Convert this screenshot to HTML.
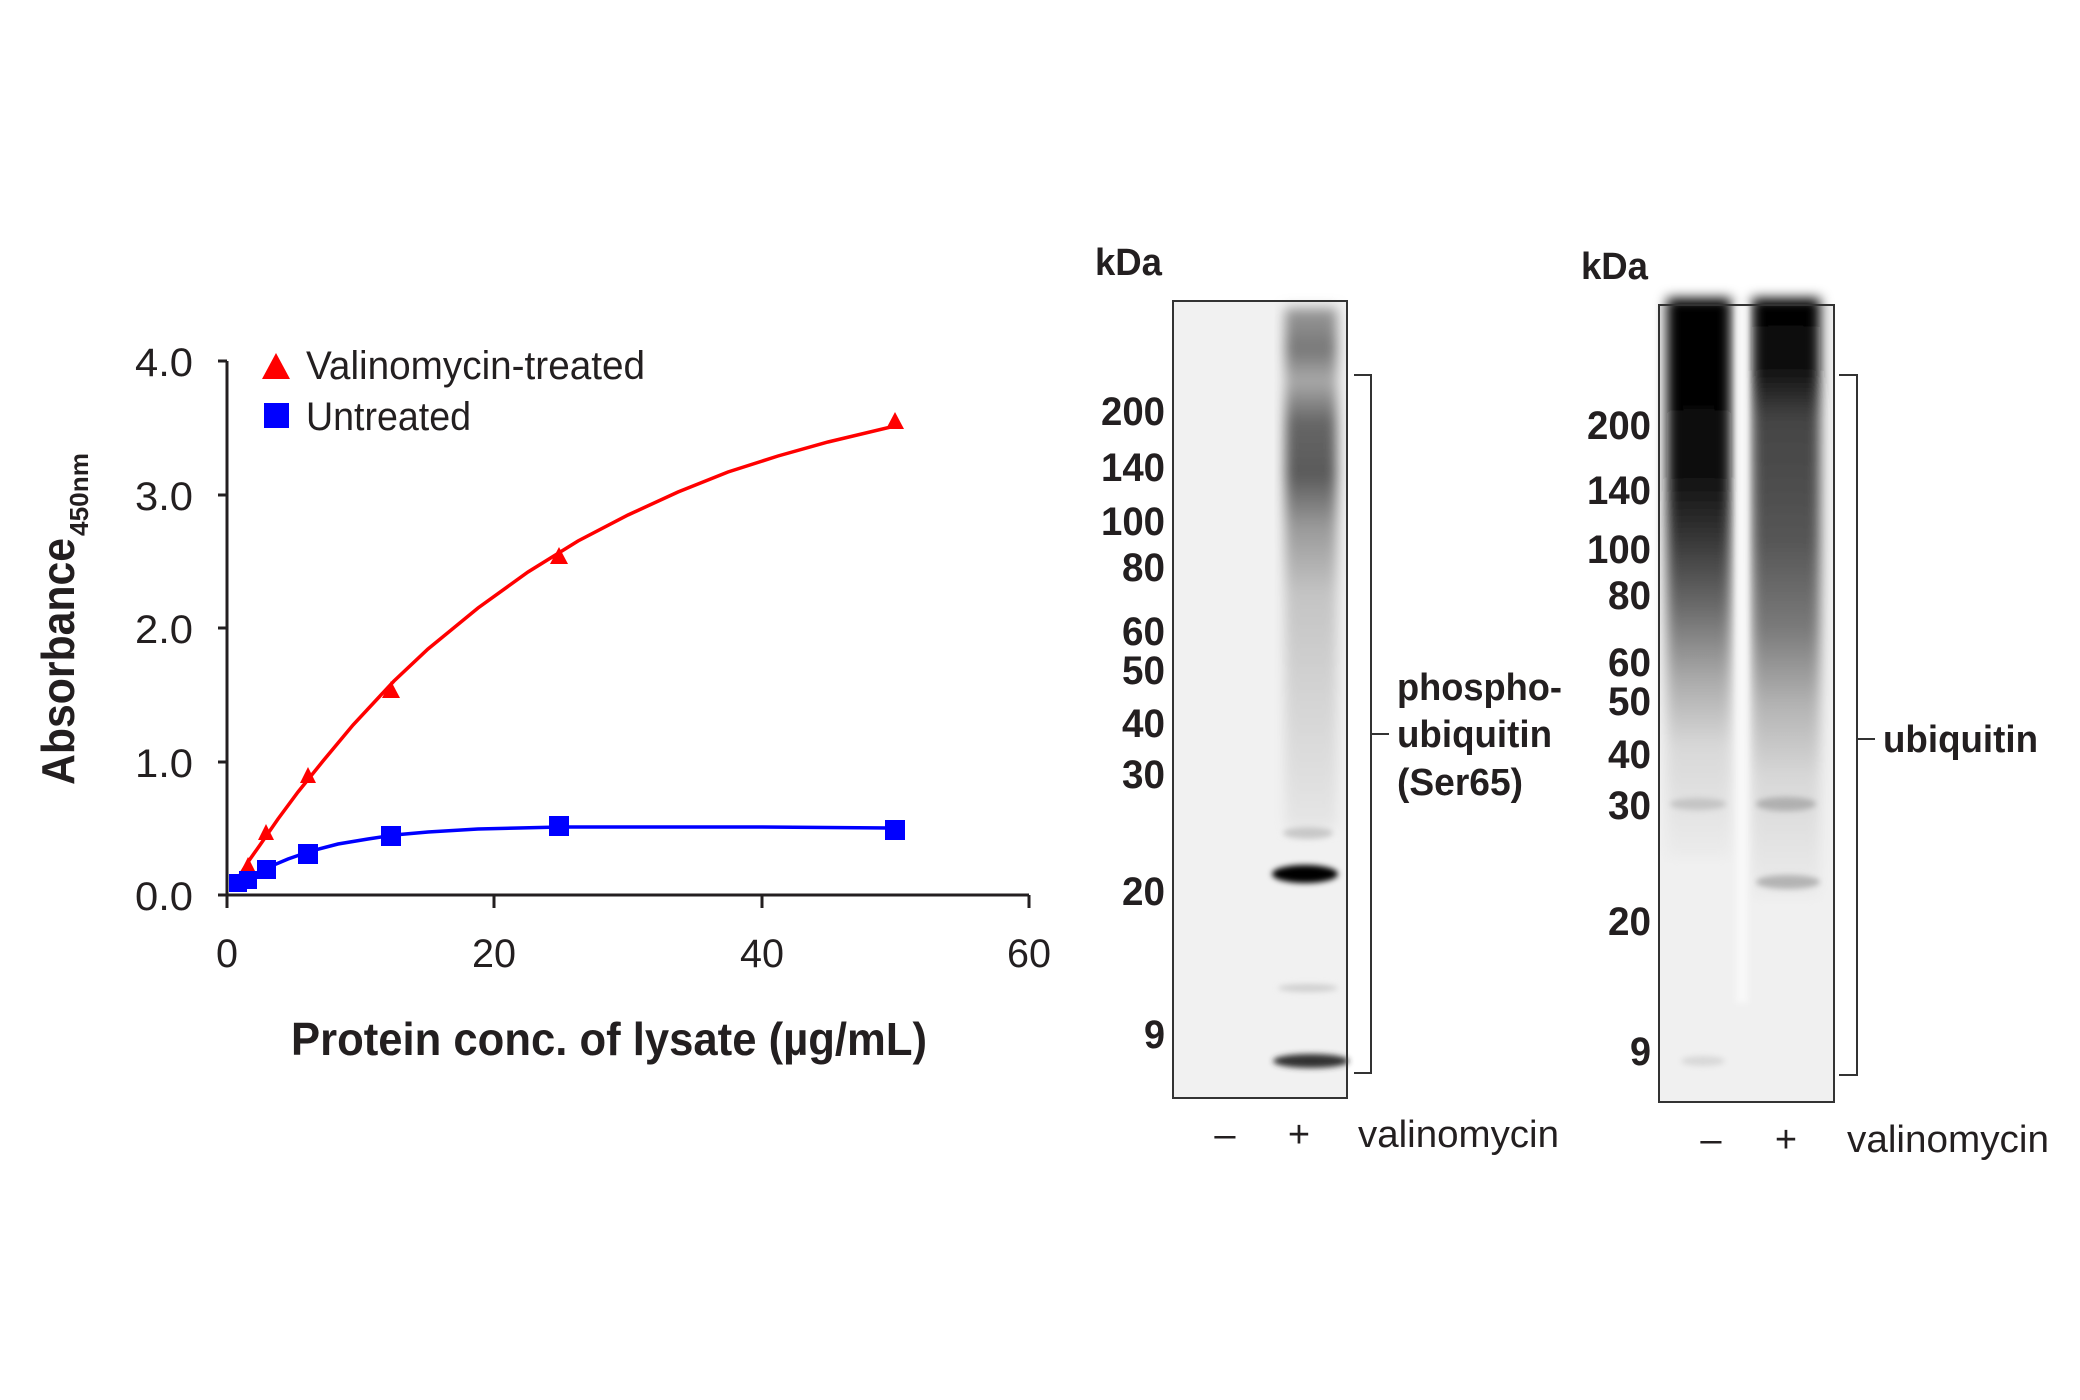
<!DOCTYPE html>
<html><head><meta charset="utf-8"><style>html,body{margin:0;padding:0;background:#fff}svg{display:block}</style></head>
<body>
<svg width="2080" height="1400" viewBox="0 0 2080 1400" xmlns="http://www.w3.org/2000/svg" font-family="Liberation Sans, sans-serif" fill="#231f20">
<defs>
<filter id="b6" x="-20%" y="-5%" width="140%" height="110%"><feGaussianBlur stdDeviation="6"/></filter>
<filter id="b3" x="-20%" y="-50%" width="140%" height="200%"><feGaussianBlur stdDeviation="3"/></filter>
<linearGradient id="g1" x1="0" y1="0" x2="0" y2="1">
<stop offset="0" stop-color="#9a9a9a"/><stop offset="0.08" stop-color="#777"/><stop offset="0.14" stop-color="#aaa"/>
<stop offset="0.22" stop-color="#666"/><stop offset="0.32" stop-color="#5a5a5a"/><stop offset="0.42" stop-color="#999"/>
<stop offset="0.55" stop-color="#c4c4c4"/><stop offset="0.75" stop-color="#d4d4d4"/><stop offset="1" stop-color="#e6e6e6"/></linearGradient>
<linearGradient id="g2" x1="0" y1="0" x2="0" y2="1">
<stop offset="0" stop-color="#000"/><stop offset="0.3" stop-color="#0a0a0a"/><stop offset="0.42" stop-color="#333"/>
<stop offset="0.55" stop-color="#6a6a6a"/><stop offset="0.68" stop-color="#aaa"/><stop offset="0.8" stop-color="#d8d8d8"/><stop offset="1" stop-color="#ececec"/></linearGradient>
<linearGradient id="g3" x1="0" y1="0" x2="0" y2="1">
<stop offset="0" stop-color="#000"/><stop offset="0.12" stop-color="#111"/><stop offset="0.2" stop-color="#444"/>
<stop offset="0.4" stop-color="#555"/><stop offset="0.55" stop-color="#7a7a7a"/><stop offset="0.68" stop-color="#b4b4b4"/><stop offset="0.8" stop-color="#d8d8d8"/><stop offset="1" stop-color="#ececec"/></linearGradient>
</defs>
<g transform="translate(-2,-2)">
<g stroke="#231f20" stroke-width="3" fill="none">
<line x1="229" y1="363" x2="229" y2="910"/>
<line x1="229" y1="897" x2="1031" y2="897"/>
<line x1="220" y1="363" x2="229" y2="363"/><line x1="220" y1="497" x2="229" y2="497"/>
<line x1="220" y1="630" x2="229" y2="630"/><line x1="220" y1="764" x2="229" y2="764"/>
<line x1="220" y1="897" x2="229" y2="897"/>
<line x1="496" y1="897" x2="496" y2="910"/><line x1="764" y1="897" x2="764" y2="910"/><line x1="1031" y1="897" x2="1031" y2="910"/>
</g>
<g font-size="40" text-anchor="end">
<text x="195" y="378" textLength="58" lengthAdjust="spacingAndGlyphs">4.0</text>
<text x="195" y="512" textLength="58" lengthAdjust="spacingAndGlyphs">3.0</text>
<text x="195" y="645" textLength="58" lengthAdjust="spacingAndGlyphs">2.0</text>
<text x="195" y="779" textLength="58" lengthAdjust="spacingAndGlyphs">1.0</text>
<text x="195" y="912" textLength="58" lengthAdjust="spacingAndGlyphs">0.0</text>
</g>
<g font-size="40" text-anchor="middle">
<text x="229" y="969" textLength="22" lengthAdjust="spacingAndGlyphs">0</text>
<text x="496" y="969" textLength="44" lengthAdjust="spacingAndGlyphs">20</text>
<text x="764" y="969" textLength="44" lengthAdjust="spacingAndGlyphs">40</text>
<text x="1031" y="969" textLength="44" lengthAdjust="spacingAndGlyphs">60</text>
</g>
<text x="293" y="1057" font-size="46" font-weight="bold" textLength="636" lengthAdjust="spacingAndGlyphs">Protein conc. of lysate (µg/mL)</text>
<g transform="translate(76,787) rotate(-90)">
<text x="0" y="0" font-size="46" font-weight="bold" textLength="247" lengthAdjust="spacingAndGlyphs">Absorbance</text>
<text x="249" y="14" font-size="26" font-weight="bold" textLength="83" lengthAdjust="spacingAndGlyphs">450nm</text>
</g>
<polygon points="264,381 292,381 278,355" fill="#ff0000"/>
<text x="308" y="381" font-size="40" textLength="339" lengthAdjust="spacingAndGlyphs">Valinomycin-treated</text>
<rect x="266" y="405" width="25" height="25" fill="#0000ff"/>
<text x="308" y="432" font-size="40" textLength="165" lengthAdjust="spacingAndGlyphs">Untreated</text>

<polyline fill="none" stroke="#ff0000" stroke-width="3.5" points="239,882 250,864 262,847 280,821 300,794 325,763 355,727 396,683 430,651 480,610 530,574 580,543 630,517 680,494 730,474 780,458 830,444 897,428"/>
<polyline fill="none" stroke="#0000ff" stroke-width="3.5" points="239,884 250,881 260,876 271,869 290,861 313,853 340,846 370,841 396,837 430,834 480,831 563,829 650,829 760,829 897,830"/>
<g fill="#ff0000">
<polygon points="233,893 247,893 240,879"/>
<polygon points="243,873 257,873 250,859"/>
<polygon points="260,842 276,842 268,826"/>
<polygon points="302,785 318,785 310,769"/>
<polygon points="384,700 402,700 393,683"/>
<polygon points="552,566 570,566 561,549"/>
<polygon points="888,431 906,431 897,414"/>
</g>
<g fill="#0000ff">
<rect x="231" y="876" width="18" height="18"/>
<rect x="241" y="873" width="18" height="18"/>
<rect x="259" y="862" width="19" height="19"/>
<rect x="300" y="846" width="20" height="20"/>
<rect x="383" y="828" width="20" height="20"/>
<rect x="551" y="818" width="20" height="20"/>
<rect x="887" y="822" width="20" height="20"/>
</g>

<rect x="1175" y="303" width="174" height="797" fill="#f1f1f1"/>
<g filter="url(#b6)">
<rect x="1287" y="310" width="52" height="520" fill="url(#g1)"/>
</g>
<g filter="url(#b3)">
<ellipse cx="1307" cy="876" rx="33" ry="9" fill="#000"/>
<ellipse cx="1310" cy="990" rx="30" ry="4" fill="#d0d0d0"/>
<ellipse cx="1313" cy="1063" rx="38" ry="7" fill="#333"/>
<ellipse cx="1310" cy="835" rx="25" ry="6" fill="#c8c8c8"/>
</g>
<rect x="1175" y="303" width="174" height="797" fill="none" stroke="#333" stroke-width="2"/>
<path d="M1356,377 H1373 V1075 H1356 M1373,736 H1391" fill="none" stroke="#333" stroke-width="2"/>
<g font-size="38" font-weight="bold">
<text x="1399" y="702" textLength="165" lengthAdjust="spacingAndGlyphs">phospho-</text>
<text x="1399" y="749" textLength="155" lengthAdjust="spacingAndGlyphs">ubiquitin</text>
<text x="1399" y="797" textLength="126" lengthAdjust="spacingAndGlyphs">(Ser65)</text>
<text x="1097" y="277" textLength="67" lengthAdjust="spacingAndGlyphs">kDa</text>
</g>
<g font-size="40" font-weight="bold" text-anchor="end">
<text x="1167" y="427" textLength="64" lengthAdjust="spacingAndGlyphs">200</text>
<text x="1167" y="483" textLength="64" lengthAdjust="spacingAndGlyphs">140</text>
<text x="1167" y="537" textLength="64" lengthAdjust="spacingAndGlyphs">100</text>
<text x="1167" y="583" textLength="43" lengthAdjust="spacingAndGlyphs">80</text>
<text x="1167" y="647" textLength="43" lengthAdjust="spacingAndGlyphs">60</text>
<text x="1167" y="686" textLength="43" lengthAdjust="spacingAndGlyphs">50</text>
<text x="1167" y="739" textLength="43" lengthAdjust="spacingAndGlyphs">40</text>
<text x="1167" y="790" textLength="43" lengthAdjust="spacingAndGlyphs">30</text>
<text x="1167" y="907" textLength="43" lengthAdjust="spacingAndGlyphs">20</text>
<text x="1167" y="1050" textLength="21" lengthAdjust="spacingAndGlyphs">9</text>
</g>
<g font-size="38">
<text x="1227" y="1149" text-anchor="middle">–</text>
<text x="1301" y="1149" text-anchor="middle">+</text>
<text x="1360" y="1149" textLength="201" lengthAdjust="spacingAndGlyphs">valinomycin</text>
</g>

<rect x="1661" y="307" width="175" height="797" fill="#f0f0f0"/>
<g filter="url(#b6)">
<rect x="1669" y="300" width="64" height="560" fill="url(#g2)"/>
<rect x="1754" y="300" width="68" height="600" fill="url(#g3)"/>
</g>
<g filter="url(#b3)">
<rect x="1738" y="305" width="12" height="700" fill="#f8f8f8"/>
<ellipse cx="1700" cy="806" rx="28" ry="6" fill="#c4c4c4"/>
<ellipse cx="1788" cy="806" rx="30" ry="7" fill="#b0b0b0"/>
<ellipse cx="1790" cy="884" rx="32" ry="7" fill="#b4b4b4"/>
<ellipse cx="1705" cy="1063" rx="22" ry="5" fill="#d8d8d8"/>
</g>
<rect x="1661" y="307" width="175" height="797" fill="none" stroke="#333" stroke-width="2"/>
<path d="M1841,377 H1859 V1077 H1841 M1859,741 H1877" fill="none" stroke="#333" stroke-width="2"/>
<g font-size="38" font-weight="bold">
<text x="1885" y="754" textLength="155" lengthAdjust="spacingAndGlyphs">ubiquitin</text>
<text x="1583" y="281" textLength="67" lengthAdjust="spacingAndGlyphs">kDa</text>
</g>
<g font-size="40" font-weight="bold" text-anchor="end">
<text x="1653" y="441" textLength="64" lengthAdjust="spacingAndGlyphs">200</text>
<text x="1653" y="506" textLength="64" lengthAdjust="spacingAndGlyphs">140</text>
<text x="1653" y="565" textLength="64" lengthAdjust="spacingAndGlyphs">100</text>
<text x="1653" y="611" textLength="43" lengthAdjust="spacingAndGlyphs">80</text>
<text x="1653" y="678" textLength="43" lengthAdjust="spacingAndGlyphs">60</text>
<text x="1653" y="717" textLength="43" lengthAdjust="spacingAndGlyphs">50</text>
<text x="1653" y="770" textLength="43" lengthAdjust="spacingAndGlyphs">40</text>
<text x="1653" y="821" textLength="43" lengthAdjust="spacingAndGlyphs">30</text>
<text x="1653" y="937" textLength="43" lengthAdjust="spacingAndGlyphs">20</text>
<text x="1653" y="1067" textLength="21" lengthAdjust="spacingAndGlyphs">9</text>
</g>
<g font-size="38">
<text x="1713" y="1154" text-anchor="middle">–</text>
<text x="1788" y="1154" text-anchor="middle">+</text>
<text x="1849" y="1154" textLength="202" lengthAdjust="spacingAndGlyphs">valinomycin</text>
</g>
</g>
</svg>
</body></html>
